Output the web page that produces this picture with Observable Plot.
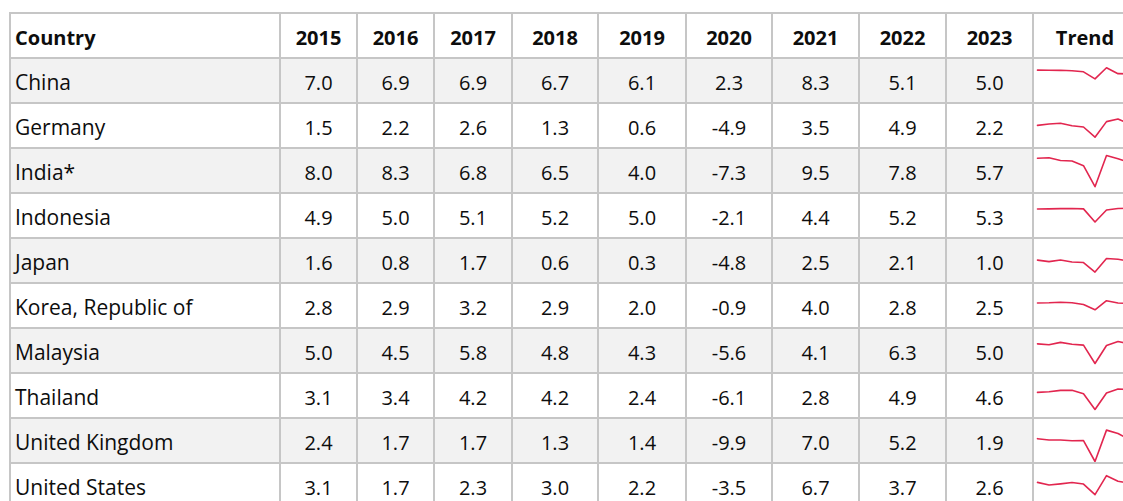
<!DOCTYPE html>
<html><head><meta charset="utf-8">
<script src="https://cdn.jsdelivr.net/npm/d3@7"></script>
<script src="https://cdn.jsdelivr.net/npm/@observablehq/plot@0.6"></script>
<style>
html,body{margin:0;padding:0;background:#fff;overflow:hidden;width:1123px;height:501px}
#wrap{position:absolute;left:9px;top:12px;width:1400px}
table{border-collapse:collapse;table-layout:fixed;font-family:"Open Sans",Lato,sans-serif;font-size:20px;color:#0d0d0d}
th,td{border:2px solid #c6c6c6;padding:3px 4px 0 4px;overflow:hidden;white-space:nowrap;text-align:center}
th{font-weight:bold}
tr{height:45px}
th.c,td.c{text-align:left;padding-left:4px}
td.c{font-size:21px}
tr.odd td{background:#f2f2f2}
tr td.trend{background:#fff;padding:0;vertical-align:top}
td.trend svg{display:block}
</style>
</head><body>
<div id="wrap"></div>
<script>
const countries = ["China","Germany","India*","Indonesia","Japan","Korea, Republic of","Malaysia","Thailand","United Kingdom","United States"];
const years = [2015,2016,2017,2018,2019,2020,2021,2022,2023];
const headerFirst = "Country";
const headerLast = "Trend";
const china     = [7.0,6.9,6.9,6.7,6.1,2.3,8.3,5.1,5.0];
const germany   = [1.5,2.2,2.6,1.3,0.6,-4.9,3.5,4.9,2.2];
const india     = [8.0,8.3,6.8,6.5,4.0,-7.3,9.5,7.8,5.7];
const indonesia = [4.9,5.0,5.1,5.2,5.0,-2.1,4.4,5.2,5.3];
const japan     = [1.6,0.8,1.7,0.6,0.3,-4.8,2.5,2.1,1.0];
const korea     = [2.8,2.9,3.2,2.9,2.0,-0.9,4.0,2.8,2.5];
const malaysia  = [5.0,4.5,5.8,4.8,4.3,-5.6,4.1,6.3,5.0];
const thailand  = [3.1,3.4,4.2,4.2,2.4,-6.1,2.8,4.9,4.6];
const uk        = [2.4,1.7,1.7,1.3,1.4,-9.9,7.0,5.2,1.9];
const us        = [3.1,1.7,2.3,3.0,2.2,-3.5,6.7,3.7,2.6];
const series = [china,germany,india,indonesia,japan,korea,malaysia,thailand,uk,us];

// layout (styles only)
const colWidths = [270,77,77,78,86,88,86,87,87,87,104];
const yDomain = d3.extent(series.flat());

const table = document.createElement("table");
table.style.width = d3.sum(colWidths) + "px";
const cg = document.createElement("colgroup");
colWidths.forEach(w => { const c = document.createElement("col"); c.style.width = w + "px"; cg.appendChild(c); });
table.appendChild(cg);
const thead = document.createElement("tr");
[headerFirst, ...years.map(String), headerLast].forEach((t, i) => {
  const th = document.createElement("th");
  th.textContent = t;
  if (i === 0) th.className = "c";
  thead.appendChild(th);
});
table.appendChild(thead);

countries.forEach((name, r) => {
  const tr = document.createElement("tr");
  if (r % 2 === 0) tr.className = "odd";
  const tdn = document.createElement("td");
  tdn.className = "c"; tdn.textContent = name; tr.appendChild(tdn);
  series[r].forEach(v => {
    const td = document.createElement("td");
    td.textContent = v.toFixed(1);
    tr.appendChild(td);
  });
  const tdt = document.createElement("td");
  tdt.className = "trend";
  const data = years.map((y, i) => ({year: y, value: series[r][i]}));
  const spark = Plot.plot({
    width: 102, height: 43,
    marginLeft: 3, marginRight: 7, marginTop: 6, marginBottom: 1,
    x: {domain: d3.extent(years), axis: null},
    y: {domain: yDomain, axis: null},
    marks: [Plot.line(data, {x: "year", y: "value", stroke: "#e2264f", strokeWidth: 1.6})]
  });
  tdt.appendChild(spark);
  tr.appendChild(tdt);
  table.appendChild(tr);
});
document.getElementById("wrap").appendChild(table);
</script>
</body></html>
